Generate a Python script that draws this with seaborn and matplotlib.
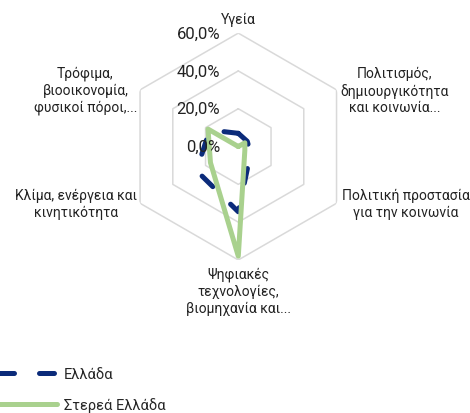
import numpy as np
import pandas as pd
import matplotlib
matplotlib.use("Agg")
import matplotlib.pyplot as plt
import seaborn as sns

# Radar axes (clockwise from the top)
categories = [
    "Υγεία",
    "Πολιτισμός,\nδημιουργικότητα\nκαι κοινωνία...",
    "Πολιτική προστασία\nγια την κοινωνία",
    "Ψηφιακές\nτεχνολογίες,\nβιομηχανία και...",
    "Κλίμα, ενέργεια και\nκινητικότητα",
    "Τρόφιμα,\nβιοοικονομία,\nφυσικοί πόροι,...",
]
series_names = ["Ελλάδα", "Στερεά Ελλάδα"]
greece = [7.0, 5.5, 7.5, 34.5, 25.5, 17.5]
sterea = [0.0, 4.0, 4.0, 58.0, 17.0, 18.5]
tick_values = [0, 20, 40, 60]
tick_labels = ["0,0%", "20,0%", "40,0%", "60,0%"]

colors = {"Ελλάδα": "#0B2B7A", "Στερεά Ελλάδα": "#A9D18E"}

sns.set_style("white")
plt.rcParams["font.family"] = ["Roboto", "DejaVu Sans"]

n = len(categories)
theta = np.linspace(0, 2 * np.pi, n, endpoint=False)
theta_closed = np.append(theta, 2 * np.pi)

rows = []
for name, vals in zip(series_names, [greece, sterea]):
    closed = list(vals) + [vals[0]]
    for t, v in zip(theta_closed, closed):
        rows.append({"theta": t, "value": v, "series": name})
df = pd.DataFrame(rows)

fig = plt.figure(figsize=(4.70, 4.14), dpi=100)
ax = fig.add_axes([0.2655, 0.3696, 0.483, 0.548], projection="polar")
ax.set_theta_zero_location("N")
ax.set_theta_direction(-1)
ax.set_ylim(0, tick_values[-1])

# hexagonal gridlines
for v in tick_values[1:]:
    ax.plot(theta_closed, [v] * (n + 1), color="#D9D9D9", lw=1.1, zorder=1)

sns.lineplot(
    data=df, x="theta", y="value", hue="series", style="series",
    palette=colors, dashes={"Ελλάδα": (3.0, 5.0), "Στερεά Ελλάδα": ""},
    sort=False, estimator=None, linewidth=3.6, legend=False, ax=ax, zorder=3,
)
data_lines = ax.lines[len(tick_values) - 1:]
for ln in data_lines:
    ln.set_dash_capstyle("round")
    ln.set_solid_joinstyle("round")
    ln.set_solid_capstyle("round")

ax.grid(False)
ax.spines["polar"].set_visible(False)
ax.set_xticks([])
ax.set_yticks([])
ax.set_xlabel("")
ax.set_ylabel("")

# radial value labels along the top axis
for v, lab in zip(tick_values, tick_labels):
    ax.annotate(lab, xy=(0, v), xytext=(-18, 0), textcoords="offset pixels",
                ha="right", va="center", fontsize=12, color="#222222")

# category labels
label_layout = [
    ((0, 7), "center", "bottom"),
    ((4, 0), "left", "center"),
    ((5, 0), "left", "center"),
    ((0, -6), "center", "top"),
    ((-3, 0), "right", "center"),
    ((-3, 0), "right", "center"),
]
for t, cat, (off, ha, va) in zip(theta, categories, label_layout):
    ax.annotate(cat, xy=(t, tick_values[-1]), xytext=off, textcoords="offset pixels",
                ha=ha, va=va, multialignment="center", fontsize=10,
                color="#222222", linespacing=1.25, annotation_clip=False)

fig.legend(data_lines, series_names, loc="upper left",
           bbox_to_anchor=(-0.056, 0.1435), frameon=False, fontsize=10.5,
           handlelength=4.8, handletextpad=0.5, labelspacing=1.15)

fig.savefig("out.png", dpi=100)
